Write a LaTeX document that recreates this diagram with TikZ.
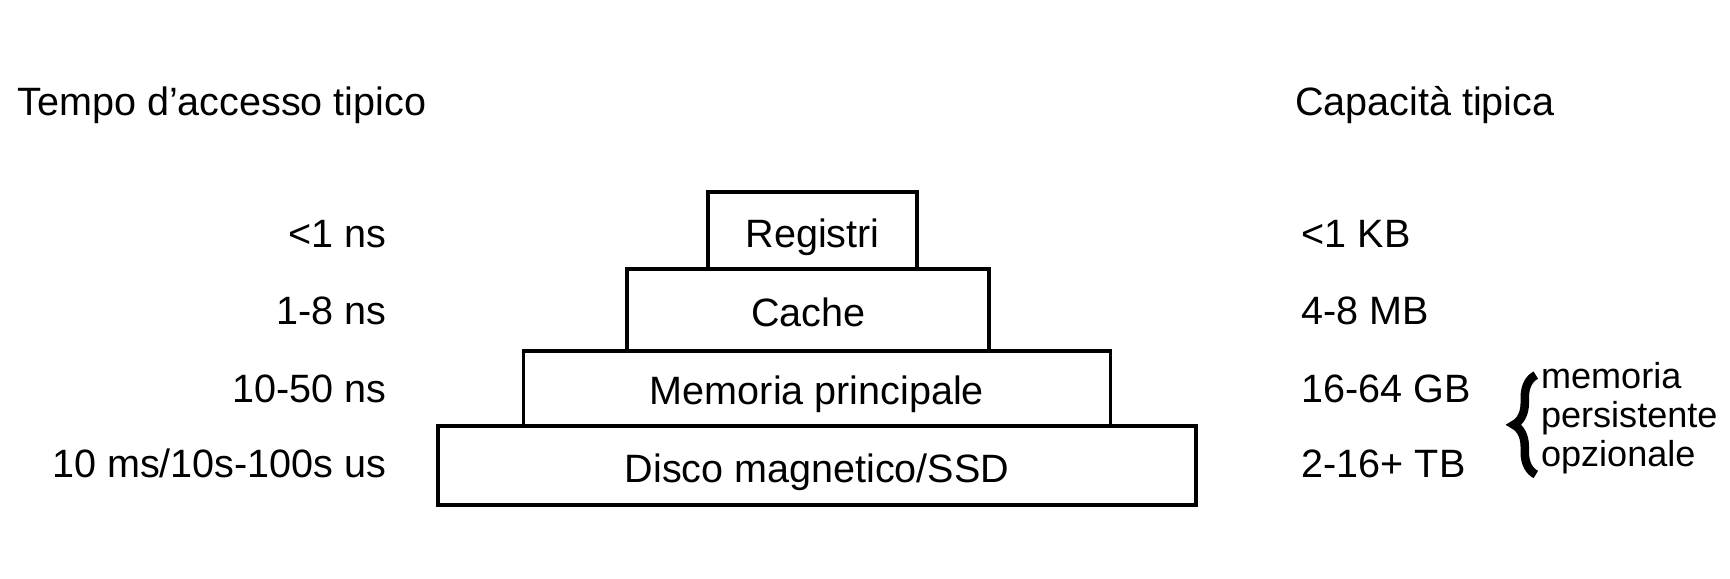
\documentclass[tikz,border=0pt]{standalone}
\usepackage{fontspec}
\setmainfont{Liberation Sans}
\usetikzlibrary{%
  positioning,% wg. " of "
  decorations.pathreplacing% brace
}

\begin{document}
\begin{tikzpicture}[
  font=\fontsize{10.2}{12}\selectfont,
  line width=1pt,
  livello/.style={draw, outer sep=0pt, inner sep=0pt, minimum height=0.7cm,
    text height=8.5pt, text depth=0pt},
  etichetta/.style={inner sep=0pt},
]
\useasboundingbox (0,0) rectangle (15.68,5.24);

% piramide
\node[livello, minimum width=6.87cm, minimum height=0.72cm] (disco) at (7.405,1.02) {Disco magnetico/SSD};
\node[livello, minimum width=5.32cm, minimum height=0.68cm, above=0pt of disco] (mem) {Memoria principale};
\node[livello, minimum width=3.28cm, minimum height=0.74cm, above=0pt of mem, xshift=-0.08cm] (cache) {Cache};
\node[livello, minimum width=1.90cm, above=0pt of cache, xshift=0.04cm] (reg) {Registri};

% tempi
\node[etichetta, anchor=west] (ttempo) at (0.14,4.29) {Tempo d’accesso tipico};
\foreach \t/\y [count=\i] in {{<1 ns}/3.12,{1-8 ns}/2.42,{10-50 ns}/1.72,{10 ms/10s-100s us}/1.04} {
  \node[etichetta, anchor=east] (tt\i) at (3.52,\y) {\t};
}

% capacita
\node[etichetta, anchor=west] (tcap) at (11.72,4.29) {Capacità tipica};
\foreach \t/\y [count=\i] in {{<1 KB}/3.12,{4-8 MB}/2.42,{16-64 GB}/1.72,{2-16+ TB}/1.04} {
  \node[etichetta, anchor=west] (tc\i) at (11.78,\y) {\t};
}

\draw[decorate, decoration={brace, amplitude=0.2cm}, line width=2.2pt] (13.92,0.94) -- (13.92,1.84);
\node[etichetta, anchor=west, align=left, font=\fontsize{9.3}{10}\selectfont] (nota) at (13.95,1.45) {memoria\\persistente\\opzionale};

\end{tikzpicture}
\end{document}
